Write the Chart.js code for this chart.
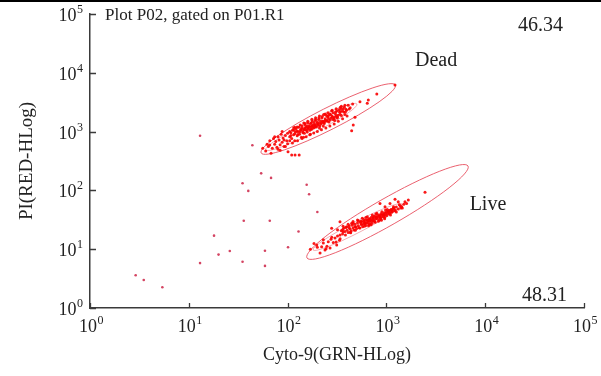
<!DOCTYPE html>
<html>
<head>
<meta charset="utf-8">
<script src="https://cdn.jsdelivr.net/npm/chart.js@4.4.0/dist/chart.umd.min.js"></script>
<style>
  html, body { margin: 0; padding: 0; background: #fff; }
  #wrap { position: relative; width: 601px; height: 376px; }
  #topline { position: absolute; left: 0; top: 0; width: 601px; height: 2px; background: #000; }
</style>
</head>
<body>
<div id="wrap">
  <canvas id="chart" width="601" height="376"></canvas>
  <div id="topline"></div>
</div>
<script>
// decades on both log axes
const decades = [1, 10, 100, 1000, 10000, 100000];
const decadeExponents = ['0', '1', '2', '3', '4', '5'];

const xTitle = 'Cyto-9(GRN-HLog)';
const yTitle = 'PI(RED-HLog)';
const plotTitle = 'Plot P02, gated on P01.R1';
const regionNames = ['Dead', 'Live'];
const regionPercents = ['46.34', '48.31'];

// events [GRN, RED]
const deadEvents = [
  [56, 520], [60, 470], [62, 610], [64, 560], [66, 700], [68, 430], [70, 520], [72, 760],
  [74, 610], [76, 680], [78, 540], [80, 820], [82, 720], [84, 600], [86, 900], [88, 660],
  [90, 780], [92, 560], [95, 860], [98, 700], [100, 940], [100, 620], [101, 455], [110, 400],
  [119, 400], [131, 400],
  [105, 820], [108, 960], [110, 760], [112, 1050], [115, 880], [118, 700], [120, 980], [122, 1120],
  [125, 850], [128, 1000], [130, 1180], [132, 900], [135, 1060], [138, 800], [140, 1250], [142, 1000],
  [145, 1120], [148, 940], [150, 1300], [152, 1080], [155, 1180], [158, 980], [160, 1400], [162, 1150],
  [165, 1260], [168, 1050], [170, 1380], [172, 1200], [175, 1100], [178, 1500], [180, 1280], [183, 1150],
  [186, 1420], [190, 1300], [193, 1600], [196, 1200], [200, 1450], [204, 1330], [208, 1700], [212, 1250],
  [216, 1520], [220, 1400], [225, 1800], [230, 1500], [235, 1380], [240, 1650], [245, 1900], [250, 1550],
  [256, 1750], [262, 1450], [268, 2000], [275, 1700], [282, 1850], [290, 2100], [298, 1750], [305, 2000],
  [315, 2250], [325, 1900], [335, 2150], [345, 2450], [360, 2250], [375, 2600], [390, 2400], [410, 2800],
  [430, 2550], [455, 2950],
  [118, 920], [124, 1010], [127, 890], [133, 980], [137, 1090], [143, 960], [147, 1070], [151, 1160],
  [156, 1040], [161, 1120], [166, 1210], [171, 1110], [176, 1260], [181, 1180], [187, 1300], [192, 1230],
  [198, 1380], [203, 1280], [210, 1420], [218, 1350], [226, 1490], [233, 1420], [242, 1560], [252, 1500],
  [260, 1640], [270, 1580], [285, 1760], [295, 1660], [310, 1860], [320, 1780], [340, 1980], [350, 1880],
  [370, 2150], [395, 2300], [420, 2420], [150, 1380], [170, 900], [190, 1550], [230, 1250], [260, 1900],
  [300, 1550], [330, 2350], [125, 1200], [105, 700], [115, 1150], [145, 800], [210, 1150], [240, 2000],
  [280, 2250], [350, 2700], [380, 1950],
  [95, 560], [105, 1000], [112, 640], [118, 1180], [126, 700], [134, 1300], [140, 760], [146, 1400],
  [154, 820], [160, 1500], [168, 880], [176, 1620], [184, 950], [192, 1720], [200, 1000], [210, 1850],
  [220, 1080], [232, 1950], [244, 1150], [256, 2100], [268, 1250], [282, 2300], [296, 1350], [310, 2450],
  [326, 1500], [342, 2600], [360, 1650], [380, 2800], [400, 1850], [88, 1000], [80, 500], [92, 720],
  [108, 860], [116, 1050], [139, 1150], [157, 1250], [174, 1400], [188, 1180], [206, 1600], [222, 1700],
  [238, 1480], [254, 1820], [272, 1950], [288, 1600], [306, 2150], [318, 1700], [345, 2200], [365, 2450],
  [385, 2150], [66, 590], [74, 820], [84, 480],
  [1222, 6200], [800, 4350], [656, 3450], [640, 3030], [540, 3220], [481, 1750], [462, 1295], [445, 1035]
];

const liveEvents = [
  [197, 11.8], [221, 11.0], [213, 8.6], [239, 9.7], [269, 10.5], [258, 13.4], [314, 11.8], [302, 15.5],
  [339, 17.4], [364, 19.8], [396, 24.1], [445, 27.6],
  [170, 10.0], [185, 12.5], [200, 10.8], [230, 12.8], [250, 11.2], [275, 14.8], [290, 13.0], [320, 16.8],
  [335, 14.2],
  [350, 20.5], [360, 18.2], [370, 22.8], [380, 20.0], [390, 23.5], [400, 21.0], [410, 19.2], [420, 24.8],
  [430, 22.0], [440, 20.3], [450, 25.6], [460, 23.0], [470, 21.2], [480, 26.5], [490, 24.0], [500, 22.4],
  [510, 27.8], [520, 25.0], [530, 23.2], [545, 28.6], [560, 26.0], [575, 24.0], [590, 30.0], [605, 27.2],
  [620, 25.3], [635, 31.5], [650, 28.5], [665, 26.4], [680, 32.8], [700, 30.0], [715, 27.5], [730, 34.0],
  [750, 31.2], [770, 28.8], [790, 35.8], [810, 32.5], [830, 30.0], [850, 37.0], [870, 34.0], [890, 31.0],
  [910, 39.0], [935, 35.5], [960, 33.0], [985, 41.0], [1010, 37.5], [1040, 44.0], [1070, 40.0], [1100, 46.5],
  [1130, 42.5], [1170, 49.0], [1210, 45.0], [1260, 52.0], [1320, 48.5], [1380, 55.0],
  [555, 27.0], [565, 29.5], [585, 26.5], [600, 28.8], [615, 31.0], [630, 28.0], [645, 30.5], [660, 33.0],
  [675, 29.8], [690, 32.2], [705, 34.8], [720, 31.5], [740, 33.8], [760, 36.5], [780, 32.8], [800, 35.2],
  [820, 38.0], [840, 34.8], [860, 37.5], [880, 40.0], [900, 36.0], [925, 38.5], [950, 41.5], [975, 38.0],
  [1000, 43.0], [1030, 40.5], [1060, 45.5], [1090, 42.0], [1120, 47.5], [1150, 44.0], [1190, 50.0], [1230, 46.5],
  [620, 34.5], [700, 26.0], [780, 39.5], [880, 33.0], [980, 46.5], [520, 30.5], [460, 27.5], [430, 19.5],
  [660, 25.0], [1400, 50.0], [1500, 58.0],
  [320, 21.5], [340, 15.0], [365, 24.5], [385, 17.5], [410, 26.5], [435, 19.0], [460, 29.5], [485, 21.0],
  [510, 31.5], [540, 23.0], [570, 33.5], [600, 24.5], [640, 35.5], [680, 27.0], [720, 38.0], [760, 29.5],
  [800, 41.0], [850, 31.5], [900, 43.5], [960, 35.0], [1020, 47.5], [1100, 38.0], [1180, 52.5], [1260, 43.0],
  [1350, 57.0], [1450, 50.0], [1600, 60.0], [280, 16.0], [310, 13.2], [360, 21.5], [420, 23.0], [480, 24.2],
  [550, 30.0], [590, 32.0], [610, 27.5], [670, 31.0], [730, 30.5], [740, 36.0], [790, 34.0], [860, 35.5],
  [940, 38.5], [1050, 43.5], [1140, 46.0], [230, 14.5], [245, 10.2],
  [861, 60], [1087, 60], [1222, 70.6], [1318, 64], [1542, 64], [1667, 68.7], [1428, 52.8], [1175, 49.6],
  [968, 52.8], [339, 29.4], [279, 22.7], [2460, 93]
];

const debrisEvents = [
  [13, 850], [44, 585], [54, 195], [68, 163], [35, 132], [40, 98], [36, 30.5], [66, 30.5],
  [129, 20], [18, 17], [101, 10.8], [20, 8.1], [26, 9.3], [59, 9.4], [13, 5.8], [35, 6.1],
  [59, 5.2], [2.9, 3.6], [3.5, 3.0], [5.4, 2.25], [156, 125], [165, 86], [200, 43]
];

// gate ends (data units): outer region and inner density contour
const deadGate = [[54, 433], [1230, 6200]];
const deadContour = [[60, 487], [504, 2945]];
const liveGate = [[157, 7.1], [6700, 260]];
const liveContour = [[181, 9.7], [1439, 58.7]];

const serif = "'Liberation Serif', 'Times New Roman', serif";
const axisColor = '#3a3a3a';
const textColor = '#222';

function toPoints(list) {
  return list.map(p => ({ x: p[0], y: p[1] }));
}

function drawGate(ctx, xs, ys, ends, ratio) {
  const x1 = xs.getPixelForValue(ends[0][0]);
  const y1 = ys.getPixelForValue(ends[0][1]);
  const x2 = xs.getPixelForValue(ends[1][0]);
  const y2 = ys.getPixelForValue(ends[1][1]);
  const a = Math.hypot(x2 - x1, y2 - y1) / 2;
  ctx.beginPath();
  ctx.ellipse((x1 + x2) / 2, (y1 + y2) / 2, a, a * ratio, Math.atan2(y2 - y1, x2 - x1), 0, Math.PI * 2);
  ctx.stroke();
}

const gatePlugin = {
  id: 'gates',
  beforeDatasetsDraw(chart) {
    const { ctx, scales: { x, y } } = chart;
    ctx.save();
    ctx.strokeStyle = 'rgba(232, 80, 95, 0.9)';
    ctx.lineWidth = 1;
    drawGate(ctx, x, y, deadGate, 0.145);
    drawGate(ctx, x, y, liveGate, 0.145);
    ctx.strokeStyle = 'rgba(232, 80, 95, 0.6)';
    ctx.lineWidth = 0.8;
    drawGate(ctx, x, y, deadContour, 0.12);
    drawGate(ctx, x, y, liveContour, 0.11);
    ctx.restore();
  }
};

// tick marks point into the plot, labels are 10 with a raised exponent
const decadeAxes = {
  id: 'decadeAxes',
  afterDraw(chart) {
    const { ctx, scales: { x, y }, chartArea } = chart;
    ctx.save();
    ctx.strokeStyle = axisColor;
    ctx.lineWidth = 1.3;
    ctx.beginPath();
    decades.forEach(v => {
      const px = Math.round(x.getPixelForValue(v)) + 0.5;
      ctx.moveTo(px, chartArea.bottom);
      ctx.lineTo(px, chartArea.bottom - 5);
      const py = Math.round(y.getPixelForValue(v)) + 0.5;
      ctx.moveTo(chartArea.left, py);
      ctx.lineTo(chartArea.left + 6, py);
    });
    ctx.stroke();

    ctx.fillStyle = textColor;
    ctx.textBaseline = 'alphabetic';
    ctx.textAlign = 'left';
    const baseFont = '18px ' + serif;
    const expFont = '12px ' + serif;
    decades.forEach((v, i) => {
      ctx.font = baseFont;
      const w10 = ctx.measureText('10').width;
      ctx.font = expFont;
      const wExp = ctx.measureText(decadeExponents[i]).width;
      // x axis label
      const lx = x.getPixelForValue(v) - (w10 + wExp) / 2 + 1;
      const ly = chartArea.bottom + 24;
      ctx.font = baseFont;
      ctx.fillText('10', lx, ly);
      ctx.font = expFont;
      ctx.fillText(decadeExponents[i], lx + w10 + 0.5, ly - 8);
      // y axis label
      const rx = chartArea.left - 7;
      const ry = y.getPixelForValue(v) + 7;
      ctx.fillText(decadeExponents[i], rx - wExp, ry - 8);
      ctx.font = baseFont;
      ctx.fillText('10', rx - wExp - 0.5 - w10, ry);
    });
    ctx.restore();
  }
};

const labelPlugin = {
  id: 'labels',
  afterDraw(chart) {
    const { ctx, scales: { x, y } } = chart;
    ctx.save();
    ctx.fillStyle = textColor;
    ctx.textBaseline = 'middle';
    ctx.textAlign = 'left';
    ctx.font = '17px ' + serif;
    ctx.fillText(plotTitle, x.getPixelForValue(1.42), y.getPixelForValue(92500));
    ctx.font = '20px ' + serif;
    ctx.fillText(regionPercents[0], x.getPixelForValue(21500), y.getPixelForValue(62500));
    ctx.fillText(regionPercents[1], x.getPixelForValue(23560), y.getPixelForValue(1.6));
    ctx.textAlign = 'center';
    ctx.fillText(regionNames[0], x.getPixelForValue(3180), y.getPixelForValue(15850));
    ctx.fillText(regionNames[1], x.getPixelForValue(10670), y.getPixelForValue(56.5));
    ctx.restore();
  }
};

function logAxis(title, titlePad, fitSize, horizontal) {
  return {
    type: 'logarithmic',
    min: 1,
    max: 100000,
    afterBuildTicks: s => { s.ticks = decades.map(v => ({ value: v })); },
    afterFit: s => { if (horizontal) s.height = fitSize; else s.width = fitSize; },
    grid: { display: false, drawTicks: false },
    border: { display: true, color: axisColor, width: 1.5 },
    ticks: { display: false },
    title: {
      display: true,
      text: title,
      color: textColor,
      font: { family: serif, size: horizontal ? 18 : 19 },
      padding: titlePad
    }
  };
}

new Chart(document.getElementById('chart'), {
  type: 'scatter',
  data: {
    datasets: [
      { label: 'Debris', data: toPoints(debrisEvents), backgroundColor: 'rgba(205, 35, 70, 0.85)', pointRadius: 1.3 },
      { label: 'Dead', data: toPoints(deadEvents), backgroundColor: 'rgba(250, 0, 0, 0.9)', pointRadius: 1.5 },
      { label: 'Live', data: toPoints(liveEvents), backgroundColor: 'rgba(250, 0, 0, 0.9)', pointRadius: 1.5 }
    ]
  },
  options: {
    responsive: false,
    animation: false,
    layout: { padding: { top: 14, right: 17, left: 0, bottom: 0 } },
    elements: { point: { borderWidth: 0, hoverRadius: 1.5 } },
    plugins: { legend: { display: false }, tooltip: { enabled: false } },
    scales: {
      x: logAxis(xTitle, { top: 0, bottom: 10 }, 68, true),
      y: logAxis(yTitle, { top: 16, bottom: 0 }, 90, false)
    }
  },
  plugins: [gatePlugin, decadeAxes, labelPlugin]
});
</script>
</body>
</html>
